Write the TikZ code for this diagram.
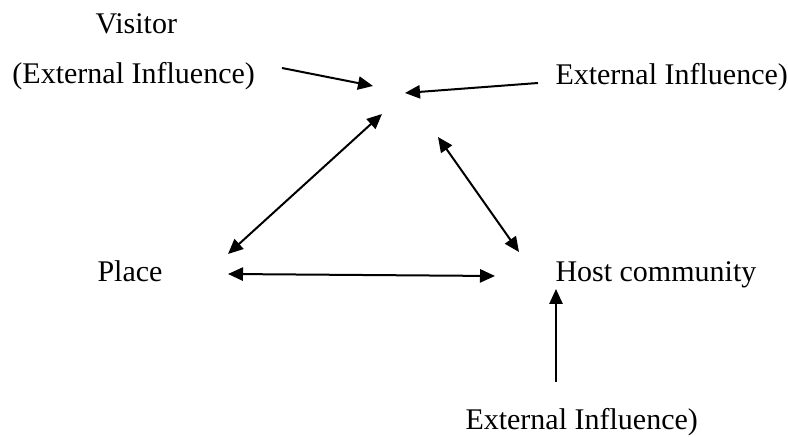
\documentclass[tikz,border=0pt]{standalone}
\usepackage{fontspec}
\setmainfont{Liberation Serif}
\usetikzlibrary{arrows.meta}

\begin{document}
\begin{tikzpicture}[x=0.4pt, y=-0.4pt, >={Triangle[length=6pt, width=5.3pt]}, every node/.style={font=\fontsize{12}{14}\selectfont, inner sep=0pt, anchor=base west}]
\useasboundingbox (0,0) rectangle (788,437);
\node (visitor) at (95,34)  {Visitor};
\node (extL)    at (12,84)  {(External Influence)};
\node (extR)    at (555,85) {External Influence)};
\node (place)   at (97,282) {Place};
\node (host)    at (555,282) {Host community};
\node (extB)    at (465,430) {External Influence)};
% arrow ends
\coordinate (eL)  at (282,68);
\coordinate (vL)  at (373,86);
\coordinate (eR)  at (538,83);
\coordinate (vR)  at (405,93);
\coordinate (vP)  at (382,114);
\coordinate (pV)  at (228,254);
\coordinate (vH)  at (438,137);
\coordinate (hV)  at (519,252);
\coordinate (pH)  at (228,274);
\coordinate (hP)  at (495,276);
\coordinate (eB)  at (556,382);
\coordinate (hB)  at (556,289);
\draw[->, line width=0.8pt] (eL) -- (vL);
\draw[->, line width=0.8pt] (eR) -- (vR);
\draw[<->, line width=0.8pt] (vP) -- (pV);
\draw[<->, line width=0.8pt] (vH) -- (hV);
\draw[<->, line width=0.8pt] (pH) -- (hP);
\draw[->, line width=0.8pt] (eB) -- (hB);
\end{tikzpicture}
\end{document}
